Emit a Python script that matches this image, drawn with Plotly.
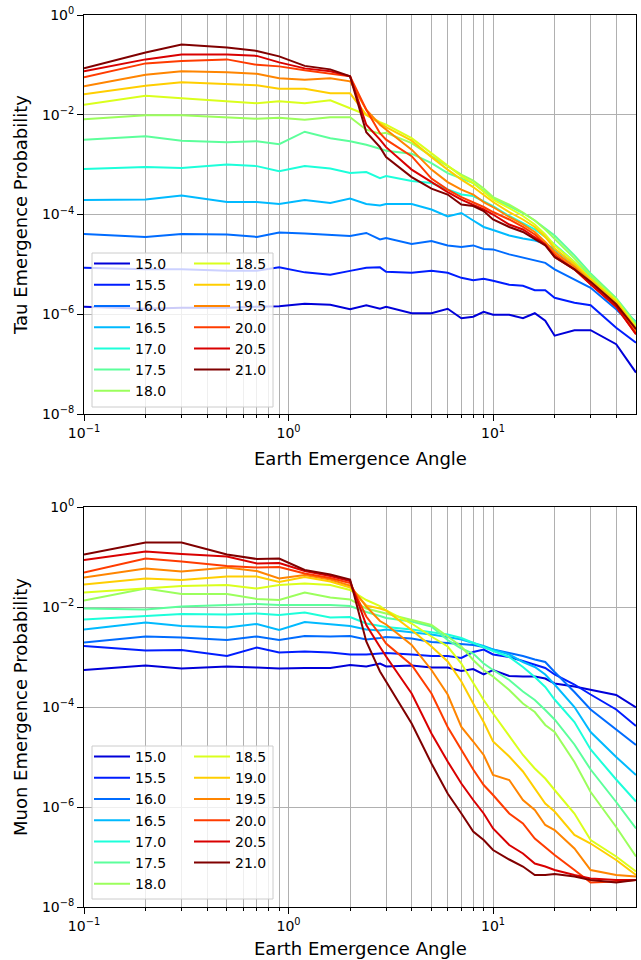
import numpy as np
import plotly.graph_objects as go

# ---------------- data ----------------
angles = [0.1, 0.2, 0.3, 0.5, 0.7, 0.9, 1.2, 1.6, 2.0, 2.4, 2.8, 3.0, 4, 5, 6, 7, 8, 9,
          10, 12, 14, 16, 18, 20, 25, 30, 40, 50]
energies = ["15.0", "15.5", "16.0", "16.5", "17.0", "17.5", "18.0",
            "18.5", "19.0", "19.5", "20.0", "20.5", "21.0"]

# log10 of tau emergence probability
tau_150 = [-5.85, -5.89, -5.87, -5.87, -5.85, -5.84, -5.79, -5.81, -5.90, -5.82, -5.89, -5.85, -5.98, -5.98, -5.89, -6.08, -6.05, -5.95, -6.01, -6.01, -6.08, -5.98, -6.13, -6.43, -6.32, -6.32, -6.60, -7.17]
tau_155 = [-5.07, -5.10, -5.10, -5.13, -5.13, -5.06, -5.16, -5.21, -5.13, -5.07, -5.06, -5.15, -5.17, -5.13, -5.17, -5.27, -5.32, -5.29, -5.33, -5.41, -5.43, -5.52, -5.52, -5.67, -5.77, -5.82, -6.27, -6.57]
tau_160 = [-4.39, -4.45, -4.39, -4.40, -4.45, -4.36, -4.38, -4.41, -4.43, -4.37, -4.50, -4.47, -4.59, -4.53, -4.62, -4.65, -4.62, -4.69, -4.70, -4.80, -4.87, -4.93, -4.97, -5.10, -5.30, -5.47, -5.90, -6.30]
tau_165 = [-3.71, -3.70, -3.62, -3.75, -3.75, -3.79, -3.71, -3.77, -3.68, -3.79, -3.82, -3.79, -3.79, -3.90, -4.04, -3.97, -4.12, -4.25, -4.31, -4.42, -4.48, -4.52, -4.58, -4.70, -5.00, -5.30, -5.80, -6.15]
tau_170 = [-3.09, -3.05, -3.07, -3.00, -3.03, -3.13, -3.03, -3.08, -3.17, -3.15, -3.27, -3.23, -3.33, -3.37, -3.50, -3.60, -3.63, -3.73, -3.83, -4.03, -4.17, -4.30, -4.45, -4.60, -4.95, -5.25, -5.75, -6.20]
tau_175 = [-2.50, -2.43, -2.52, -2.55, -2.53, -2.59, -2.34, -2.47, -2.53, -2.60, -2.68, -2.72, -2.78, -2.97, -3.17, -3.27, -3.37, -3.53, -3.68, -3.83, -3.97, -4.12, -4.28, -4.42, -4.82, -5.18, -5.68, -6.18]
tau_180 = [-2.09, -2.01, -2.01, -2.05, -2.08, -2.06, -2.10, -2.05, -2.05, -2.30, -2.38, -2.36, -2.57, -2.83, -3.03, -3.20, -3.32, -3.48, -3.65, -3.80, -3.96, -4.12, -4.30, -4.48, -4.88, -5.22, -5.70, -6.22]
tau_185 = [-1.80, -1.62, -1.67, -1.73, -1.77, -1.73, -1.77, -1.71, -1.87, -2.00, -2.15, -2.20, -2.47, -2.77, -3.03, -3.23, -3.37, -3.55, -3.70, -3.87, -4.03, -4.20, -4.40, -4.62, -4.95, -5.28, -5.72, -6.25]
tau_190 = [-1.59, -1.42, -1.35, -1.38, -1.41, -1.48, -1.48, -1.57, -1.57, -2.00, -2.18, -2.25, -2.52, -2.85, -3.10, -3.30, -3.45, -3.60, -3.75, -3.95, -4.10, -4.25, -4.45, -4.68, -5.00, -5.30, -5.75, -6.28]
tau_195 = [-1.43, -1.20, -1.13, -1.15, -1.18, -1.27, -1.30, -1.27, -1.33, -1.90, -2.20, -2.30, -2.70, -3.10, -3.35, -3.50, -3.60, -3.75, -3.85, -4.05, -4.20, -4.35, -4.55, -4.75, -5.05, -5.35, -5.80, -6.35]
tau_200 = [-1.25, -0.97, -0.92, -0.89, -1.00, -1.03, -1.11, -1.17, -1.23, -1.90, -2.37, -2.50, -2.83, -3.28, -3.50, -3.65, -3.75, -3.85, -3.95, -4.10, -4.25, -4.40, -4.60, -4.80, -5.10, -5.40, -5.85, -6.40]
tau_205 = [-1.13, -0.89, -0.79, -0.79, -0.82, -0.95, -1.07, -1.13, -1.23, -2.20, -2.50, -2.65, -3.10, -3.35, -3.55, -3.70, -3.80, -3.90, -4.00, -4.20, -4.30, -4.45, -4.60, -4.85, -5.10, -5.40, -5.85, -6.40]
tau_210 = [-1.07, -0.75, -0.59, -0.65, -0.72, -0.83, -1.02, -1.09, -1.23, -2.35, -2.65, -2.85, -3.25, -3.48, -3.60, -3.80, -3.83, -3.93, -4.10, -4.25, -4.35, -4.50, -4.62, -4.85, -5.10, -5.35, -5.80, -6.30]

# log10 of muon emergence probability
mu_150 = [-3.26, -3.17, -3.23, -3.19, -3.21, -3.23, -3.22, -3.22, -3.16, -3.19, -3.13, -3.19, -3.17, -3.21, -3.21, -3.28, -3.24, -3.35, -3.26, -3.38, -3.39, -3.39, -3.43, -3.53, -3.59, -3.66, -3.76, -4.01]
mu_155 = [-2.78, -2.87, -2.86, -2.98, -2.81, -2.91, -2.89, -2.91, -2.95, -2.95, -2.93, -2.92, -2.95, -2.98, -2.98, -3.02, -2.90, -2.85, -2.95, -3.00, -3.08, -3.15, -3.22, -3.35, -3.55, -3.75, -4.05, -4.38]
mu_160 = [-2.71, -2.59, -2.61, -2.66, -2.59, -2.66, -2.58, -2.59, -2.58, -2.65, -2.62, -2.60, -2.63, -2.70, -2.72, -2.74, -2.76, -2.80, -2.85, -2.92, -2.98, -3.05, -3.10, -3.30, -3.70, -4.05, -4.45, -4.76]
mu_165 = [-2.45, -2.31, -2.38, -2.41, -2.34, -2.46, -2.30, -2.35, -2.38, -2.45, -2.47, -2.45, -2.50, -2.55, -2.60, -2.65, -2.72, -2.78, -2.85, -2.95, -3.10, -3.20, -3.35, -3.55, -4.00, -4.50, -5.00, -5.36]
mu_170 = [-2.25, -2.18, -2.14, -2.15, -2.13, -2.16, -2.11, -2.21, -2.20, -2.33, -2.38, -2.40, -2.45, -2.50, -2.55, -2.62, -2.72, -2.80, -2.88, -3.00, -3.20, -3.40, -3.60, -3.85, -4.30, -4.85, -5.45, -5.89]
mu_175 = [-2.03, -2.05, -1.99, -1.96, -1.94, -1.96, -1.96, -1.96, -1.98, -2.10, -2.18, -2.22, -2.29, -2.39, -2.66, -2.83, -2.93, -3.13, -3.26, -3.46, -3.69, -3.86, -4.06, -4.25, -4.75, -5.25, -5.90, -6.43]
mu_180 = [-1.87, -1.63, -1.74, -1.74, -1.84, -1.86, -1.71, -1.81, -1.85, -2.03, -2.10, -2.13, -2.26, -2.36, -2.59, -2.79, -3.06, -3.26, -3.39, -3.66, -3.93, -4.10, -4.36, -4.50, -5.10, -5.70, -6.40, -6.99]
mu_185 = [-1.71, -1.63, -1.58, -1.56, -1.63, -1.56, -1.53, -1.56, -1.66, -1.86, -1.98, -2.07, -2.33, -2.59, -2.79, -3.13, -3.53, -3.86, -4.13, -4.59, -4.96, -5.23, -5.43, -5.66, -6.13, -6.66, -6.99, -7.29]
mu_190 = [-1.55, -1.43, -1.46, -1.39, -1.39, -1.50, -1.40, -1.49, -1.61, -1.97, -2.03, -2.07, -2.46, -2.79, -3.09, -3.49, -3.93, -4.30, -4.69, -4.99, -5.29, -5.63, -5.93, -6.09, -6.56, -6.73, -7.06, -7.36]
mu_195 = [-1.41, -1.23, -1.29, -1.21, -1.28, -1.43, -1.36, -1.45, -1.57, -1.99, -2.28, -2.35, -2.76, -3.26, -3.75, -4.40, -4.69, -4.96, -5.36, -5.46, -5.86, -6.06, -6.36, -6.46, -6.83, -7.26, -7.36, -7.39]
mu_200 = [-1.31, -1.03, -1.09, -1.18, -1.21, -1.20, -1.33, -1.42, -1.52, -2.19, -2.55, -2.73, -3.16, -3.73, -4.40, -4.86, -5.25, -5.56, -5.76, -6.13, -6.33, -6.63, -6.80, -6.96, -7.26, -7.51, -7.49, -7.46]
mu_205 = [-1.06, -0.89, -0.94, -0.99, -1.13, -1.12, -1.28, -1.38, -1.48, -2.36, -2.80, -2.99, -3.73, -4.53, -5.09, -5.53, -5.86, -6.13, -6.43, -6.76, -6.93, -7.13, -7.19, -7.26, -7.36, -7.43, -7.46, -7.46]
mu_210 = [-0.95, -0.71, -0.71, -0.95, -1.04, -1.03, -1.26, -1.35, -1.45, -2.69, -3.29, -3.49, -4.33, -5.13, -5.73, -6.13, -6.49, -6.66, -6.86, -7.05, -7.19, -7.36, -7.36, -7.34, -7.39, -7.46, -7.51, -7.46]

tau_series = [tau_150, tau_155, tau_160, tau_165, tau_170, tau_175, tau_180,
              tau_185, tau_190, tau_195, tau_200, tau_205, tau_210]
mu_series = [mu_150, mu_155, mu_160, mu_165, mu_170, mu_175, mu_180,
             mu_185, mu_190, mu_195, mu_200, mu_205, mu_210]

x_major = [0.1, 1, 10]
x_major_text = ["10<sup>\u22121</sup>", "10<sup>0</sup>", "10<sup>1</sup>"]
x_minor = [0.2, 0.3, 0.4, 0.5, 0.6, 0.7, 0.8, 0.9, 2, 3, 4, 5, 6, 7, 8, 9, 20, 30, 40]
y_major = [1e-8, 1e-6, 1e-4, 1e-2, 1]
y_major_text = ["10<sup>\u22128</sup>", "10<sup>\u22126</sup>", "10<sup>\u22124</sup>",
                "10<sup>\u22122</sup>", "10<sup>0</sup>"]

# ---------------- styling ----------------
W, H = 641, 960
FONT = "DejaVu Sans"


def jet(t):
    r = np.interp(t, [0, 0.35, 0.66, 0.89, 1], [0, 0, 1, 1, 0.5])
    g = np.interp(t, [0, 0.125, 0.375, 0.64, 0.91, 1], [0, 0, 1, 1, 0, 0])
    b = np.interp(t, [0, 0.11, 0.34, 0.65, 1], [0.5, 1, 1, 0, 0])
    return "rgb(%d,%d,%d)" % (round(r * 255), round(g * 255), round(b * 255))


colors = [jet((i + 1) / len(energies)) for i in range(len(energies))]

fig = go.Figure()

for panel, (series, xa, ya, legs) in enumerate([
        (tau_series, "x", "y", ("legend", "legend2")),
        (mu_series, "x2", "y2", ("legend3", "legend4"))]):
    for i, (e, s) in enumerate(zip(energies, series)):
        fig.add_trace(go.Scatter(
            x=angles, y=10 ** np.array(s), mode="lines", name=e,
            line=dict(color=colors[i], width=2),
            xaxis=xa, yaxis=ya,
            legend=legs[0] if i < 7 else legs[1],
        ))

xdom = [84 / W, 636 / W]
top_dom = [1 - 414 / H, 1 - 15 / H]
bot_dom = [1 - 907 / H, 1 - 507 / H]


def xaxis(anchor):
    return dict(type="log", range=[-1, np.log10(50)], domain=xdom, anchor=anchor,
                tickmode="array", tickvals=x_major, ticktext=x_major_text,
                ticks="outside", ticklen=6, tickwidth=1, tickcolor="black",
                showgrid=True, gridcolor="#b0b0b0", gridwidth=1,
                minor=dict(tickmode="array", tickvals=x_minor, ticks="outside",
                           ticklen=3, tickwidth=1, tickcolor="black",
                           showgrid=True, gridcolor="#b0b0b0", gridwidth=1),
                showline=True, linecolor="black", linewidth=1, mirror=True,
                zeroline=False, automargin=False,
                tickfont=dict(family=FONT, size=14, color="black"))


def yaxis(anchor, dom):
    return dict(type="log", range=[-8, 0], domain=dom, anchor=anchor,
                tickmode="array", tickvals=y_major, ticktext=y_major_text,
                ticks="outside", ticklen=6, tickwidth=1, tickcolor="black",
                showgrid=True, gridcolor="#b0b0b0", gridwidth=1,
                showline=True, linecolor="black", linewidth=1, mirror=True,
                zeroline=False, automargin=False,
                tickfont=dict(family=FONT, size=14, color="black"))


def legend(xpx, ypx):
    return dict(x=xpx / W, y=1 - ypx / H, xanchor="left", yanchor="top",
                xref="paper", yref="paper",
                bgcolor="rgba(0,0,0,0)", borderwidth=0,
                font=dict(family=FONT, size=14, color="black"),
                itemwidth=36)


shapes = [
    dict(type="rect", xref="paper", yref="paper", layer="above",
         x0=92 / W, x1=273 / W, y0=1 - 407 / H, y1=1 - 253 / H,
         fillcolor="rgba(255,255,255,0.8)", line=dict(color="#cccccc", width=1)),
    dict(type="rect", xref="paper", yref="paper", layer="above",
         x0=92 / W, x1=273 / W, y0=1 - 899 / H, y1=1 - 746 / H,
         fillcolor="rgba(255,255,255,0.8)", line=dict(color="#cccccc", width=1)),
]

annotations = [
    dict(text="Earth Emergence Angle", x=360 / W, y=1 - 458 / H, xref="paper", yref="paper",
         showarrow=False, font=dict(family=FONT, size=18, color="black"),
         xanchor="center", yanchor="middle"),
    dict(text="Earth Emergence Angle", x=360 / W, y=1 - 948 / H, xref="paper", yref="paper",
         showarrow=False, font=dict(family=FONT, size=18, color="black"),
         xanchor="center", yanchor="middle"),
    dict(text="Tau Emergence Probability", x=20 / W, y=1 - 215 / H, xref="paper", yref="paper",
         showarrow=False, textangle=-90, font=dict(family=FONT, size=18, color="black"),
         xanchor="center", yanchor="middle"),
    dict(text="Muon Emergence Probability", x=20 / W, y=1 - 707 / H, xref="paper", yref="paper",
         showarrow=False, textangle=-90, font=dict(family=FONT, size=18, color="black"),
         xanchor="center", yanchor="middle"),
]

fig.update_layout(
    width=W, height=H,
    margin=dict(l=0, r=0, t=0, b=0, autoexpand=False),
    paper_bgcolor="white", plot_bgcolor="white",
    font=dict(family=FONT, size=14, color="black"),
    xaxis=xaxis("y"), yaxis=yaxis("x", top_dom),
    xaxis2=xaxis("y2"), yaxis2=yaxis("x2", bot_dom),
    legend=legend(89, 248), legend2=legend(189, 248),
    legend3=legend(89, 741), legend4=legend(189, 741),
    shapes=shapes, annotations=annotations,
)

fig.write_html("out.html", config={"displayModeBar": False},
               post_script="document.body.style.margin='0';document.body.style.padding='0';")
